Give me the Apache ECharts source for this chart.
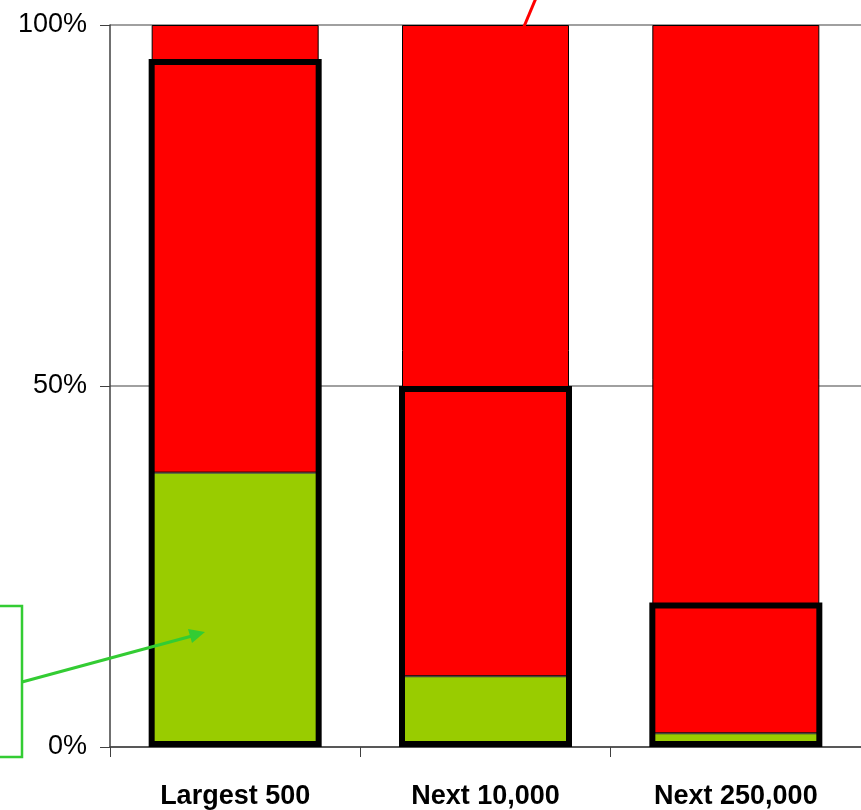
<!DOCTYPE html>
<html>
<head>
<meta charset="utf-8">
<script src="https://cdn.jsdelivr.net/npm/echarts@6/dist/echarts.min.js"></script>
<style>html,body{margin:0;padding:0;background:#fff}#c{width:861px;height:810px}</style>
</head>
<body>
<div id="c"></div>
<script>
const categories = ['Largest 500', 'Next 10,000', 'Next 250,000'];
const greenValues = [38, 9.8, 1.9];
const redValues = [62, 90.2, 98.1];
const outlineValues = [95.3, 50, 20];
const yTicks = [0, 50, 100];

const chart = echarts.init(document.getElementById('c'));
const FONT = '"Liberation Sans", Arial, sans-serif';
const BW = 167;
chart.setOption({
  animation: false,
  grid: { left: 110, top: 25, bottom: 63, width: 755 },
  xAxis: [{
    type: 'category',
    data: categories,
    boundaryGap: true,
    axisLine: { lineStyle: { color: '#404040', width: 1.5 } },
    axisTick: { show: true, length: 10, lineStyle: { color: '#404040' } },
    axisLabel: { fontFamily: FONT, fontSize: 27, fontWeight: 'bold', color: '#000', margin: 36 }
  }, {
    type: 'category',
    data: categories,
    position: 'bottom',
    show: false
  }],
  yAxis: {
    type: 'value',
    min: 0, max: 100, interval: 50,
    axisLine: { show: true, lineStyle: { color: '#404040', width: 1.5 } },
    axisTick: { show: true, length: 10, lineStyle: { color: '#404040' } },
    splitLine: { show: true, lineStyle: { color: '#808080', width: 1.5 } },
    axisLabel: {
      fontFamily: FONT, fontSize: 27, color: '#000', margin: 23,
      formatter: v => yTicks.includes(v) ? v + '%' : ''
    }
  },
  series: [
    { name: 'green', type: 'bar', stack: 'a', data: greenValues, barWidth: BW,
      itemStyle: { color: '#99CC00', borderColor: '#333', borderWidth: 1 } },
    { name: 'red', type: 'bar', stack: 'a', data: redValues, barWidth: BW,
      itemStyle: { color: '#FF0000', borderColor: '#000', borderWidth: 1 } },
    { name: 'outline', type: 'bar', xAxisIndex: 1, data: outlineValues, barWidth: BW + 6, silent: true, z: 5,
      itemStyle: { color: 'rgba(0,0,0,0)', borderColor: '#000', borderWidth: 6 } }
  ],
  graphic: [
    { type: 'line', z: 100, shape: { x1: 515, y1: 48, x2: 536, y2: -2 }, style: { stroke: '#FF0000', lineWidth: 3 } },
    { type: 'rect', z: 100, shape: { x: -10, y: 606, width: 32, height: 151 }, style: { fill: 'none', stroke: '#33CC33', lineWidth: 2.5 } },
    { type: 'line', z: 100, shape: { x1: 22, y1: 682, x2: 192, y2: 636 }, style: { stroke: '#33CC33', lineWidth: 3 } },
    { type: 'polygon', z: 100, shape: { points: [[205, 632], [188, 629], [192, 643]] }, style: { fill: '#33CC33' } }
  ]
});
</script>
</body>
</html>
